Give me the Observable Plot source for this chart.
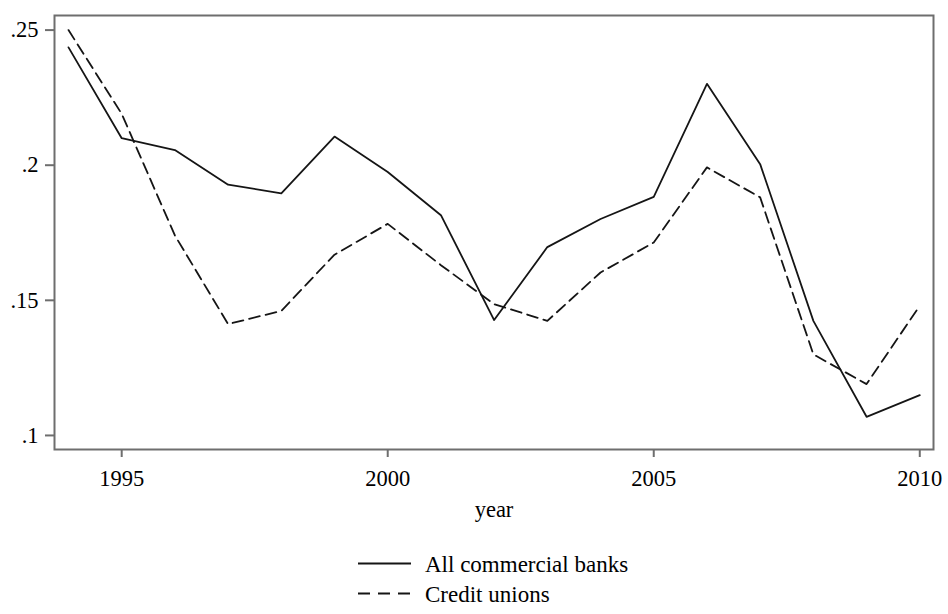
<!DOCTYPE html>
<html>
<head>
<meta charset="utf-8">
<script src="https://cdn.jsdelivr.net/npm/d3@7"></script>
<script src="https://cdn.jsdelivr.net/npm/@observablehq/plot@0.6"></script>
<style>
  html, body { margin: 0; padding: 0; background: #fff; }
  #wrap { position: relative; width: 948px; height: 614px; font-family: "Liberation Serif", "Times New Roman", serif; color: #000; }
  #chart { position: absolute; left: 0; top: 0; }
  #legend { position: absolute; left: 358px; top: 550px; font-size: 23px; }
  .row { display: flex; align-items: flex-start; height: 30px; line-height: 30px; white-space: nowrap; }
  .row svg { margin-right: 14px; }
</style>
</head>
<body>
<div id="wrap">
  <div id="chart"></div>
  <div id="legend"></div>
</div>
<script>
// Annual ratio by institution type, 1994–2010
const years = [1994, 1995, 1996, 1997, 1998, 1999, 2000, 2001, 2002, 2003, 2004, 2005, 2006, 2007, 2008, 2009, 2010];
const allCommercialBanks = [0.2436, 0.2100, 0.2056, 0.1928, 0.1896, 0.2106, 0.1975, 0.1815, 0.1427, 0.1697, 0.1801, 0.1883, 0.2301, 0.2004, 0.1424, 0.1069, 0.1149];
const creditUnions = [0.2500, 0.2190, 0.1740, 0.1412, 0.1461, 0.1669, 0.1783, 0.1630, 0.1486, 0.1424, 0.1603, 0.1714, 0.1992, 0.1881, 0.1300, 0.1190, 0.1480];

const seriesNames = ["All commercial banks", "Credit unions"];
const seriesDash = [null, "11,6"];

const xTicks = [1995, 2000, 2005, 2010];
const yTicks = [0.1, 0.15, 0.2, 0.25];
const yTickLabels = [".1", ".15", ".2", ".25"];

const rows = [];
years.forEach((yr, i) => {
  rows.push({year: yr, value: allCommercialBanks[i], series: seriesNames[0]});
  rows.push({year: yr, value: creditUnions[i], series: seriesNames[1]});
});

const axisGray = "#6e6e6e";

const chart = Plot.plot({
  width: 948,
  height: 530,
  marginLeft: 54,
  marginRight: 15,
  marginTop: 15,
  marginBottom: 81,
  style: {fontFamily: "Liberation Serif, Times New Roman, serif", fontSize: "22px", color: "#000", background: "#fff", overflow: "visible"},
  x: {domain: [1993.737, 2010.258]},
  y: {domain: [0.0948, 0.2554]},
  marks: [
    Plot.axisY(yTicks, {
      tickSize: 9, tickPadding: 7, stroke: axisGray, strokeWidth: 2,
      tickFormat: d => yTickLabels[yTicks.indexOf(d)], label: null, fontSize: 22.5
    }),
    Plot.axisX(xTicks, {
      tickSize: 8, tickPadding: 13, stroke: axisGray, strokeWidth: 2,
      tickFormat: d => String(d), label: null, fontSize: 22.5
    }),
    Plot.text(["year"], {frameAnchor: "bottom", lineAnchor: "bottom", dy: 67, fontSize: 22.5}),
    Plot.line(rows.filter(d => d.series === seriesNames[0]), {
      x: "year", y: "value", stroke: "#151515", strokeWidth: 1.8
    }),
    Plot.line(rows.filter(d => d.series === seriesNames[1]), {
      x: "year", y: "value", stroke: "#151515", strokeWidth: 1.8, strokeDasharray: seriesDash[1]
    }),
    Plot.frame({stroke: axisGray, strokeWidth: 2})
  ]
});
document.getElementById("chart").appendChild(chart);

// Legend: line sample followed by the series name
const legend = d3.select("#legend");
seriesNames.forEach((name, i) => {
  const row = legend.append("div").attr("class", "row");
  const s = row.append("svg").attr("width", 53).attr("height", 30);
  s.append("line")
    .attr("x1", 0).attr("x2", 53).attr("y1", 13.5).attr("y2", 13.5)
    .attr("stroke", "#151515").attr("stroke-width", 1.8)
    .attr("stroke-dasharray", seriesDash[i] ? "12,8" : null);
  row.append("span").text(name);
});
</script>
</body>
</html>
